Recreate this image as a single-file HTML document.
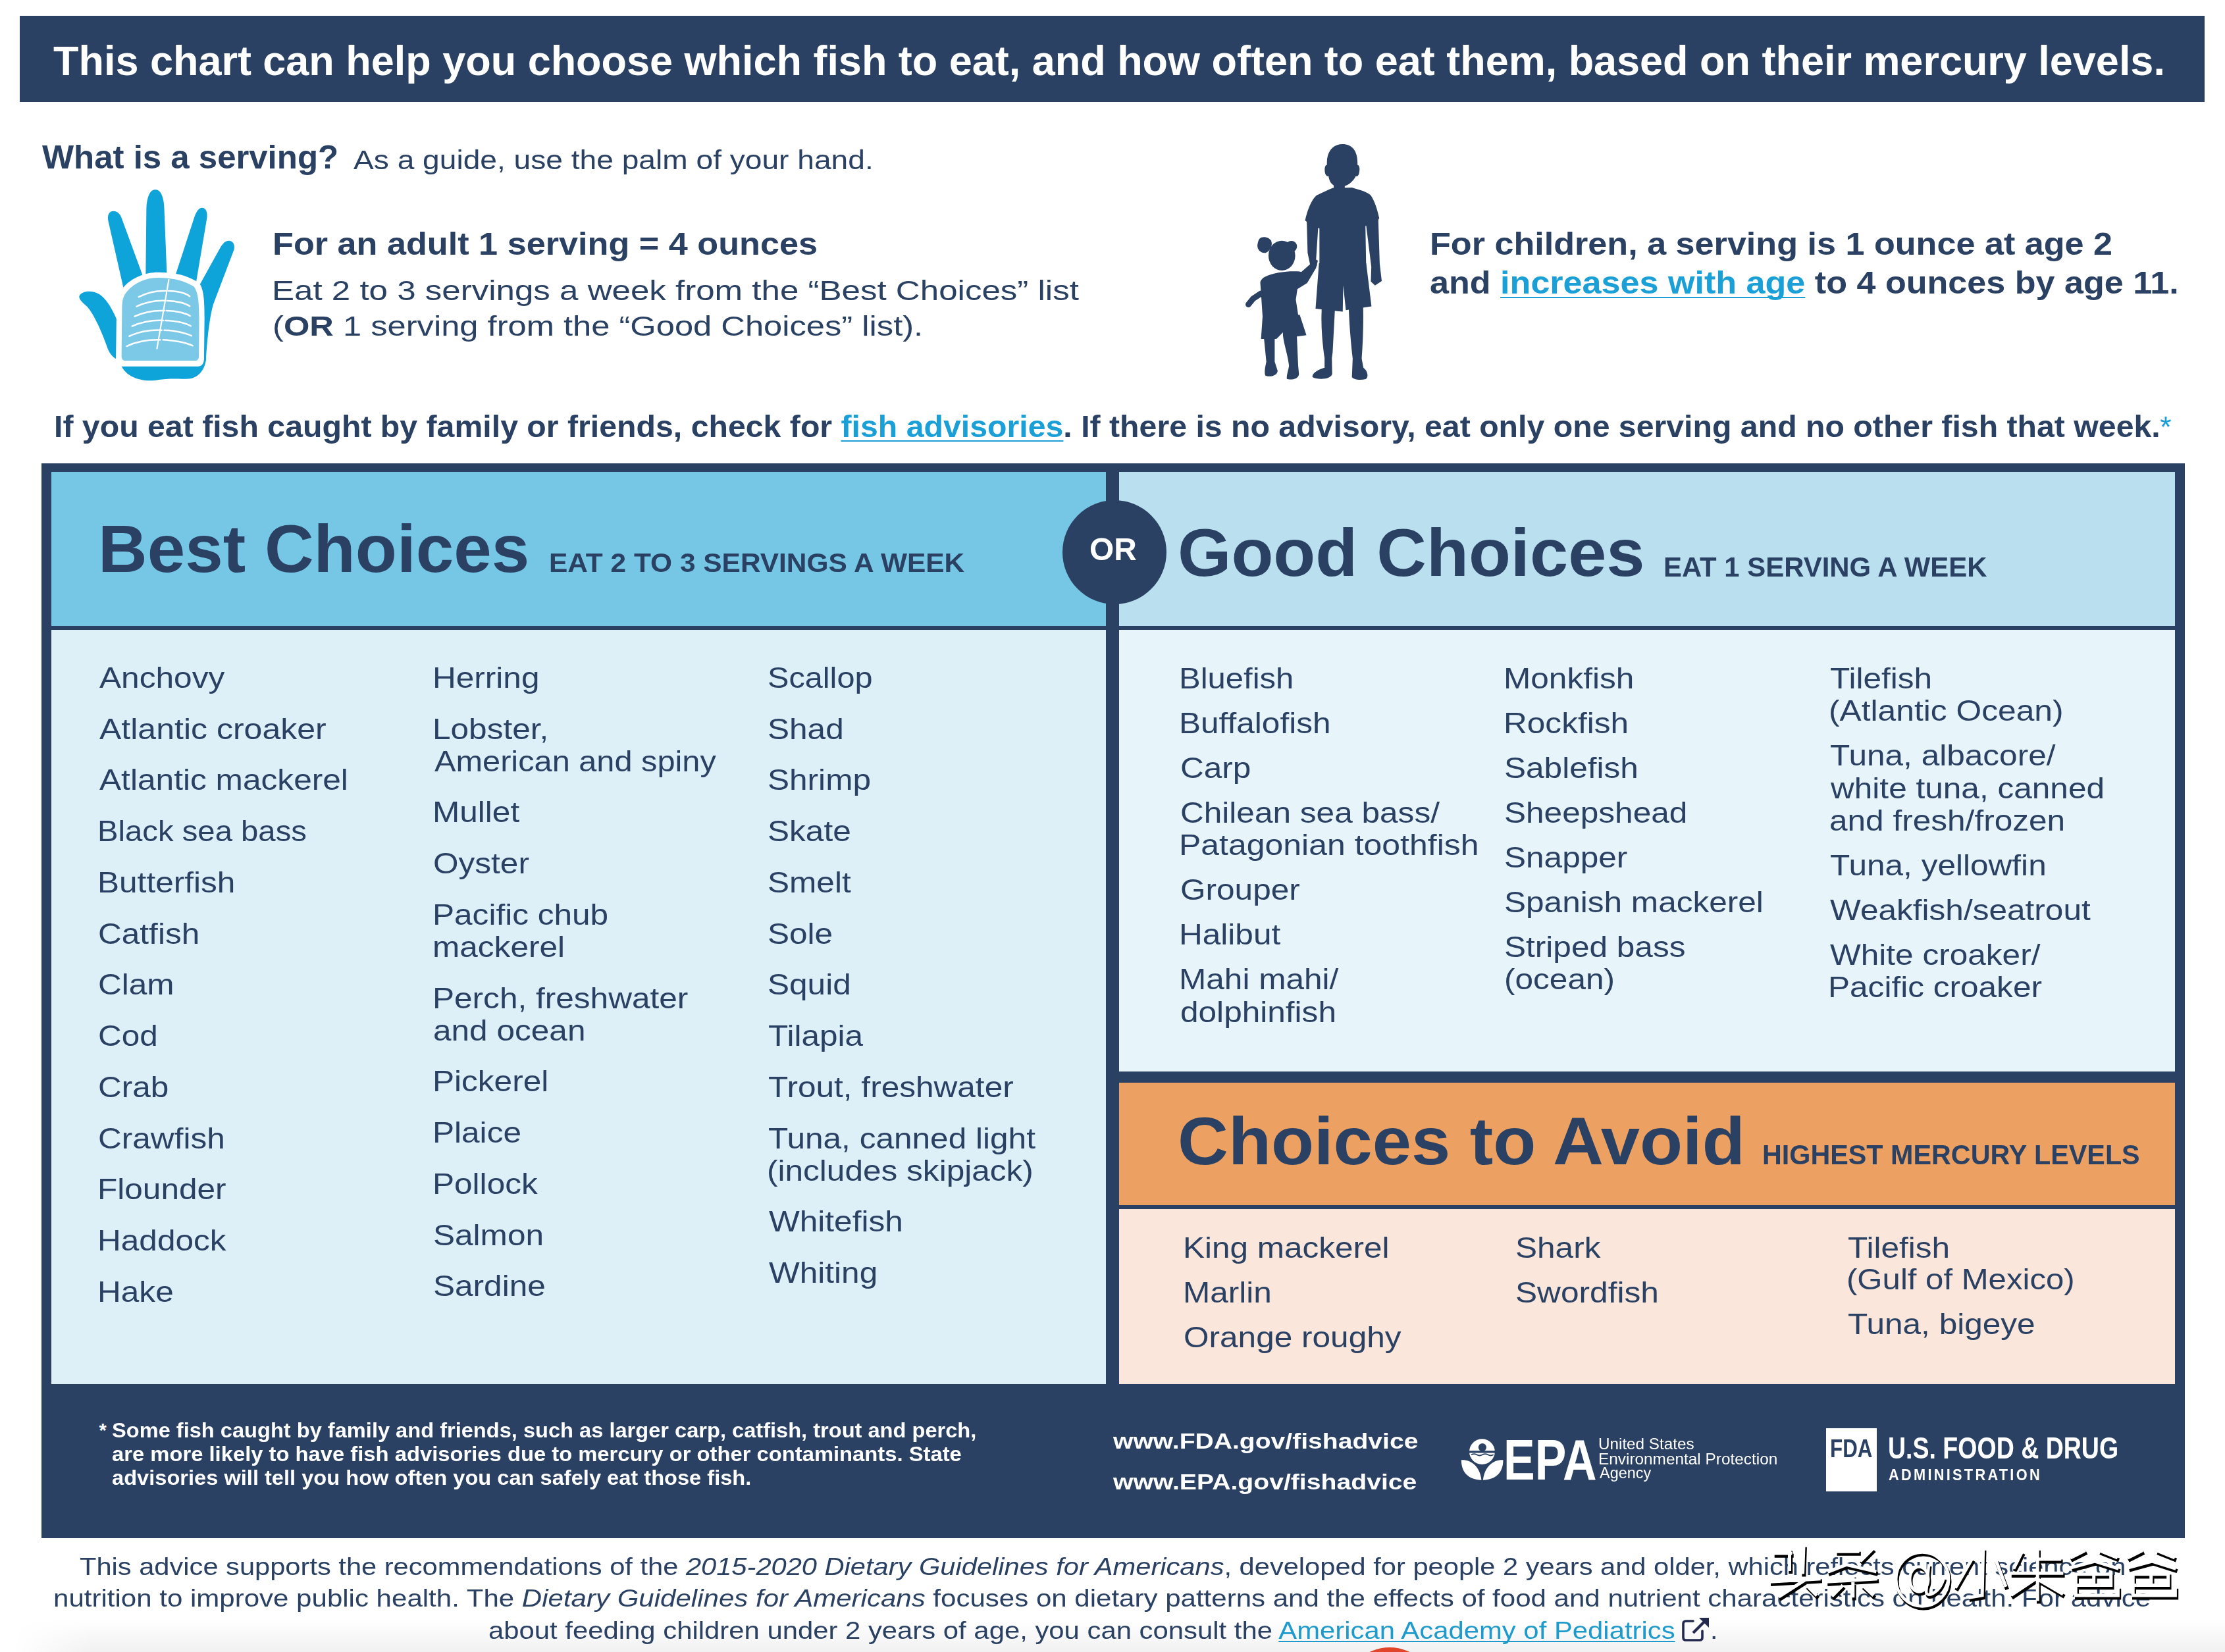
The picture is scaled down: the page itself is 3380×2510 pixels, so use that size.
<!DOCTYPE html>
<html><head><meta charset="utf-8"><title>Fish advice chart</title>
<style>
html,body{margin:0;padding:0;width:3380px;height:2510px;overflow:hidden;position:relative}
.t{position:absolute;white-space:nowrap;line-height:1;font-family:"Liberation Sans",sans-serif;transform-origin:0 0}
.b{position:absolute}
.lk{color:#1aa0d6;text-decoration:underline;text-decoration-thickness:1.5px;text-underline-offset:5px;text-decoration-skip-ink:none}
.lk2{color:#1e9bcc;text-decoration:underline;text-decoration-thickness:1.5px;text-underline-offset:3px;text-decoration-skip-ink:none}
i{font-style:italic}

body{background:#fff}

</style></head><body>
<div class="b" style="left:30px;top:24px;width:3319px;height:131px;background:#2a4163"></div>
<div class="b" style="left:63px;top:704px;width:3256px;height:1633px;background:#2a4163"></div>
<div class="b" style="left:78px;top:717px;width:1602px;height:234px;background:#76c7e5"></div>
<div class="b" style="left:78px;top:957px;width:1602px;height:1146px;background:#ddf0f8"></div>
<div class="b" style="left:1700px;top:717px;width:1604px;height:234px;background:#badfef"></div>
<div class="b" style="left:1700px;top:957px;width:1604px;height:671px;background:#e7f4fa"></div>
<div class="b" style="left:1700px;top:1645px;width:1604px;height:186px;background:#eca163"></div>
<div class="b" style="left:1700px;top:1837px;width:1604px;height:266px;background:#fae6da"></div>
<div class="b" style="left:1614px;top:760px;width:158px;height:158px;border-radius:50%;background:#2a4163"></div>
<div class="b" style="left:2773.6px;top:2170px;width:77px;height:96px;background:#fff"></div>
<div class="b" style="left:0;top:2460px;width:3380px;height:50px;background:linear-gradient(to bottom,rgba(0,0,0,0),rgba(0,0,0,0.055));-webkit-mask-image:linear-gradient(to right,transparent 20px,#000 140px);mask-image:linear-gradient(to right,transparent 20px,#000 140px)"></div>
<div class="b" style="left:2042px;top:2502.6px;width:138px;height:138px;border-radius:50%;background:#e0452a"></div>
<svg class="b" style="left:100px;top:270px" width="280" height="320" viewBox="0 0 1446 1652">
<g fill="#0ea4da">
<path d="M626 820 L632 240 C636 150 660 93 702 93 C745 93 768 150 772 240 L795 820 Z"/>
<path d="M478 980 L334 345 C322 292 340 262 374 262 C408 262 430 288 444 334 L622 820 Z"/>
<path d="M842 820 L1010 305 C1024 265 1044 236 1068 236 C1100 236 1114 272 1106 322 L1012 880 Z"/>
<path d="M1000 930 L1214 545 C1234 512 1254 494 1278 494 C1310 494 1328 522 1320 562 L1158 990 C1130 1080 1110 1250 1100 1410 L1000 1410 Z"/>
<path d="M425 1170 C395 1100 340 960 260 912 C200 880 125 888 106 928 C100 948 125 975 168 1012 C230 1085 290 1230 330 1345 C352 1395 385 1425 425 1432 Z"/>
<path d="M445 880 L1100 880 L1100 1430 C1085 1520 1030 1572 965 1577 C880 1582 815 1570 700 1590 C585 1602 480 1562 440 1485 L400 1430 Z"/>
</g>
<path fill="#fff" d="M452 860 C515 785 625 742 722 742 C850 742 955 765 1045 825 C1080 868 1088 950 1088 1100 L1084 1425 C1082 1462 1062 1480 1040 1480 L440 1480 C412 1480 393 1460 393 1425 L398 1010 C400 945 420 895 452 860 Z"/>
<path fill="#7cc8e7" d="M480 893 C540 822 633 785 722 785 C840 785 930 806 1005 855 C1035 895 1045 960 1046 1100 L1044 1400 C1044 1424 1032 1436 1010 1436 L470 1436 C450 1436 437 1424 437 1400 L441 1010 C443 955 455 920 480 893 Z"/>
<g stroke="#fff" stroke-width="13" fill="none" stroke-linecap="round">
<path d="M572 935 C650 895 730 885 790 888"/>
<path d="M555 1010 C640 970 720 962 785 965"/>
<path d="M540 1088 C625 1048 710 1040 775 1043"/>
<path d="M520 1165 C610 1125 695 1117 765 1120"/>
<path d="M498 1243 C590 1200 680 1193 752 1196"/>
<path d="M478 1322 C575 1276 665 1270 740 1272"/>
<path d="M805 888 C870 890 940 905 972 930"/>
<path d="M798 965 C870 967 940 985 972 1008"/>
<path d="M790 1043 C865 1045 940 1062 975 1085"/>
<path d="M782 1120 C860 1122 940 1140 980 1163"/>
<path d="M773 1196 C855 1198 940 1218 985 1240"/>
<path d="M763 1272 C850 1274 945 1295 995 1318"/>
<path d="M808 800 L715 1340" stroke-width="11"/>
</g>
</svg>
<svg class="b" style="left:1880px;top:200px" width="240" height="390" viewBox="0 0 1017 1652">
<g fill="#2a4163">
<path d="M575 200 C575 120 620 80 675 80 C735 80 772 120 772 200 L772 215 C785 215 790 240 780 275 C772 290 765 290 762 285 C745 320 715 344 690 350 L690 364 L619 366 L619 346 C600 335 590 315 585 285 C575 290 565 280 562 260 C558 230 565 215 575 215 Z"/>
<path d="M613 362 L737 360 C790 376 835 388 856 409 C880 440 900 500 912 559 L888 576 L823 608 L828 888 L527 888 L527 624 L462 592 L435 573 C450 500 480 430 511 409 C550 390 590 372 613 362 Z"/>
<path d="M445 565 L522 590 L519 612 L505 830 L512 862 L470 872 L451 780 Z"/>
<path d="M826 590 L910 550 L906 572 L915 850 L928 962 L885 990 L858 965 L861 870 Z"/>
<path d="M524 847 L828 847 L862 1125 L697 1149 L680 989 L677 1159 L502 1140 Z"/>
<path d="M541 1100 L629 1100 L612 1420 L607 1456 L609 1560 C600 1595 520 1600 482 1580 C478 1555 520 1530 560 1520 L560 1456 C548 1380 536 1260 541 1155 Z"/>
<path d="M716 1100 L808 1100 C812 1250 805 1380 799 1461 L810 1520 C838 1540 845 1580 825 1593 C790 1600 750 1598 736 1580 L741 1461 C730 1370 720 1250 716 1145 Z"/>
<ellipse cx="285" cy="798" rx="86" ry="96"/>
<path d="M140 690 C160 670 200 680 215 700 C230 730 210 770 180 780 C150 785 125 760 128 730 C130 710 135 700 140 690 Z"/>
<path d="M318 715 C335 695 370 700 380 725 C390 750 370 775 345 778 C325 778 312 758 318 715 Z"/>
<path d="M175 935 C230 905 330 895 400 900 C425 905 440 930 448 974 L385 1013 L375 1081 L390 1179 L400 1179 L443 1310 L300 1330 L292 1292 L250 1335 L151 1335 L161 1189 L146 969 C150 955 160 942 175 935 Z"/>
<path d="M150 1042 L100 1075 L70 1112" stroke="#2a4163" stroke-width="38" stroke-linecap="round" fill="none"/>
<path d="M380 930 L468 852 L490 815 L517 830 L505 878 L448 974 Z"/>
<path d="M166 1290 L239 1290 L239 1481 L258 1540 C255 1575 200 1582 178 1570 C170 1540 180 1510 185 1481 Z"/>
<path d="M292 1280 L380 1280 L390 1505 L395 1560 C395 1595 340 1600 317 1592 C315 1560 330 1530 331 1505 C320 1420 300 1380 292 1310 Z"/>
</g>
</svg>
<svg class="b" style="left:2200px;top:2150px" width="520" height="140" viewBox="0 0 2225 599">
<circle cx="220" cy="238" r="83" fill="#fff"/>
<rect x="130" y="232" width="180" height="14" fill="#2a4163"/>
<circle cx="222" cy="210" r="26" fill="#2a4163"/>
<path d="M150 258 q18 -10 36 0 q18 10 36 0 q18 -10 36 0 q18 10 36 0" stroke="#2a4163" stroke-width="8" fill="none"/>
<path fill="#fff" d="M85 292 C145 288 205 330 216 422 C130 420 85 372 85 292 Z"/>
<path fill="#fff" d="M357 292 C297 288 237 330 226 422 C312 420 357 372 357 292 Z"/>
</svg>
<div class="t" style="left:3281px;top:626px;font-size:45px;font-weight:400;color:#1aa0d6">*</div>
<div class="t" style="left:150.5px;top:2159.4px;font-size:29px;font-weight:700;color:#fff">*</div>
<svg class="b" style="left:2552px;top:2454px" width="48" height="42" viewBox="0 0 48 42">
<path d="M20 9 L9 9 Q5 9 5 13 L5 34 Q5 38 9 38 L30 38 Q34 38 34 34 L34 24" stroke="#23294f" stroke-width="3.6" fill="none" stroke-linecap="round"/>
<path d="M20 27 L38 9" stroke="#23294f" stroke-width="4.2"/>
<path d="M29 4 L44 4 L44 19 Z" fill="#23294f"/>
</svg>

<div class="t" id="banner" style="left:80.59px;top:61.84px;font-size:62.32px;font-weight:700;color:#ffffff;transform:scaleX(1.01032);">This chart can help you choose which fish to eat, and how often to eat them, based on their mercury levels.</div>
<div class="t" id="serv_b" style="left:64.19px;top:214.24px;font-size:50.72px;font-weight:700;color:#2a4163;transform:scaleX(1.00449);">What is a serving?</div>
<div class="t" id="serv_r" style="left:537.00px;top:222.66px;font-size:40.76px;font-weight:400;color:#2a4163;transform:scaleX(1.13184);">As a guide, use the palm of your hand.</div>
<div class="t" id="adult1" style="left:413.76px;top:346.13px;font-size:48.84px;font-weight:700;color:#2a4163;transform:scaleX(1.06879);">For an adult 1 serving = 4 ounces</div>
<div class="t" id="adult2" style="left:413.37px;top:419.60px;font-size:43.32px;font-weight:400;color:#2a4163;transform:scaleX(1.17886);">Eat 2 to 3 servings a week from the “Best Choices” list</div>
<div class="t" id="adult3" style="left:414.00px;top:473.90px;font-size:43.32px;font-weight:400;color:#2a4163;transform:scaleX(1.16961);">(<b>OR</b> 1 serving from the “Good Choices” list).</div>
<div class="t" id="child1" style="left:2171.96px;top:346.33px;font-size:48.84px;font-weight:700;color:#2a4163;transform:scaleX(1.06749);">For children, a serving is 1 ounce at age 2</div>
<div class="t" id="child2" style="left:2172.30px;top:405.23px;font-size:48.84px;font-weight:700;color:#2a4163;transform:scaleX(1.06685);">and <span class="lk">increases with age</span> to 4 ounces by age 11.</div>
<div class="t" id="advis" style="left:82.27px;top:624.81px;font-size:46.38px;font-weight:700;color:#2a4163;transform:scaleX(1.04020);">If you eat fish caught by family or friends, check for <span class="lk">fish advisories</span>. If there is no advisory, eat only one serving and no other fish that week.</div>
<div class="t" id="best_t" style="left:149.35px;top:783.05px;font-size:102.90px;font-weight:700;color:#2a4163;transform:scaleX(1.00516);">Best Choices</div>
<div class="t" id="best_s" style="left:833.91px;top:835.22px;font-size:41.16px;font-weight:700;color:#2a4163;transform:scaleX(1.03120);">EAT 2 TO 3 SERVINGS A WEEK</div>
<div class="t" id="or" style="left:1655.00px;top:810.59px;font-size:47.83px;font-weight:700;color:#ffffff;transform:scaleX(1.00145);">OR</div>
<div class="t" id="good_t" style="left:1788.93px;top:789.45px;font-size:102.90px;font-weight:700;color:#2a4163;transform:scaleX(1.01742);">Good Choices</div>
<div class="t" id="good_s" style="left:2526.99px;top:841.13px;font-size:41.74px;font-weight:700;color:#2a4163;transform:scaleX(1.00432);">EAT 1 SERVING A WEEK</div>
<div class="t" id="avoid_t" style="left:1788.86px;top:1682.55px;font-size:102.90px;font-weight:700;color:#2a4163;transform:scaleX(1.03479);">Choices to Avoid</div>
<div class="t" id="avoid_s" style="left:2677.10px;top:1733.37px;font-size:42.75px;font-weight:700;color:#2a4163;transform:scaleX(0.96604);">HIGHEST MERCURY LEVELS</div>
<div class="t" id="b1_0_0" style="left:151.35px;top:1007.98px;font-size:44.17px;font-weight:400;color:#2a4163;transform:scaleX(1.12367);">Anchovy</div>
<div class="t" id="b1_1_0" style="left:151.35px;top:1085.72px;font-size:44.17px;font-weight:400;color:#2a4163;transform:scaleX(1.13267);">Atlantic croaker</div>
<div class="t" id="b1_2_0" style="left:151.35px;top:1163.46px;font-size:44.17px;font-weight:400;color:#2a4163;transform:scaleX(1.12402);">Atlantic mackerel</div>
<div class="t" id="b1_3_0" style="left:148.15px;top:1241.20px;font-size:44.17px;font-weight:400;color:#2a4163;transform:scaleX(1.07055);">Black sea bass</div>
<div class="t" id="b1_4_0" style="left:147.98px;top:1318.94px;font-size:44.17px;font-weight:400;color:#2a4163;transform:scaleX(1.12227);">Butterfish</div>
<div class="t" id="b1_5_0" style="left:149.10px;top:1396.68px;font-size:44.17px;font-weight:400;color:#2a4163;transform:scaleX(1.12227);">Catfish</div>
<div class="t" id="b1_6_0" style="left:149.10px;top:1474.42px;font-size:44.17px;font-weight:400;color:#2a4163;transform:scaleX(1.12227);">Clam</div>
<div class="t" id="b1_7_0" style="left:149.10px;top:1552.16px;font-size:44.17px;font-weight:400;color:#2a4163;transform:scaleX(1.12227);">Cod</div>
<div class="t" id="b1_8_0" style="left:149.10px;top:1629.90px;font-size:44.17px;font-weight:400;color:#2a4163;transform:scaleX(1.12227);">Crab</div>
<div class="t" id="b1_9_0" style="left:149.10px;top:1707.64px;font-size:44.17px;font-weight:400;color:#2a4163;transform:scaleX(1.12227);">Crawfish</div>
<div class="t" id="b1_10_0" style="left:147.98px;top:1785.38px;font-size:44.17px;font-weight:400;color:#2a4163;transform:scaleX(1.12227);">Flounder</div>
<div class="t" id="b1_11_0" style="left:147.98px;top:1863.12px;font-size:44.17px;font-weight:400;color:#2a4163;transform:scaleX(1.12227);">Haddock</div>
<div class="t" id="b1_12_0" style="left:147.98px;top:1940.86px;font-size:44.17px;font-weight:400;color:#2a4163;transform:scaleX(1.12227);">Hake</div>
<div class="t" id="b2_0_0" style="left:656.98px;top:1007.98px;font-size:44.17px;font-weight:400;color:#2a4163;transform:scaleX(1.12227);">Herring</div>
<div class="t" id="b2_1_0" style="left:656.98px;top:1085.72px;font-size:44.17px;font-weight:400;color:#2a4163;transform:scaleX(1.12227);">Lobster,</div>
<div class="t" id="b2_1_1" style="left:660.36px;top:1134.72px;font-size:44.17px;font-weight:400;color:#2a4163;transform:scaleX(1.10310);">American and spiny</div>
<div class="t" id="b2_2_0" style="left:656.98px;top:1212.46px;font-size:44.17px;font-weight:400;color:#2a4163;transform:scaleX(1.12227);">Mullet</div>
<div class="t" id="b2_3_0" style="left:658.10px;top:1290.20px;font-size:44.17px;font-weight:400;color:#2a4163;transform:scaleX(1.12227);">Oyster</div>
<div class="t" id="b2_4_0" style="left:656.98px;top:1367.94px;font-size:44.17px;font-weight:400;color:#2a4163;transform:scaleX(1.12227);">Pacific chub</div>
<div class="t" id="b2_4_1" style="left:656.98px;top:1416.94px;font-size:44.17px;font-weight:400;color:#2a4163;transform:scaleX(1.12227);">mackerel</div>
<div class="t" id="b2_5_0" style="left:656.98px;top:1494.68px;font-size:44.17px;font-weight:400;color:#2a4163;transform:scaleX(1.12227);">Perch, freshwater</div>
<div class="t" id="b2_5_1" style="left:658.10px;top:1543.68px;font-size:44.17px;font-weight:400;color:#2a4163;transform:scaleX(1.12227);">and ocean</div>
<div class="t" id="b2_6_0" style="left:656.98px;top:1621.42px;font-size:44.17px;font-weight:400;color:#2a4163;transform:scaleX(1.12227);">Pickerel</div>
<div class="t" id="b2_7_0" style="left:656.98px;top:1699.16px;font-size:44.17px;font-weight:400;color:#2a4163;transform:scaleX(1.12227);">Plaice</div>
<div class="t" id="b2_8_0" style="left:656.98px;top:1776.90px;font-size:44.17px;font-weight:400;color:#2a4163;transform:scaleX(1.12227);">Pollock</div>
<div class="t" id="b2_9_0" style="left:658.10px;top:1854.64px;font-size:44.17px;font-weight:400;color:#2a4163;transform:scaleX(1.12227);">Salmon</div>
<div class="t" id="b2_10_0" style="left:658.10px;top:1932.38px;font-size:44.17px;font-weight:400;color:#2a4163;transform:scaleX(1.12227);">Sardine</div>
<div class="t" id="b3_0_0" style="left:1166.20px;top:1007.98px;font-size:44.17px;font-weight:400;color:#2a4163;transform:scaleX(1.10142);">Scallop</div>
<div class="t" id="b3_1_0" style="left:1166.17px;top:1085.72px;font-size:44.17px;font-weight:400;color:#2a4163;transform:scaleX(1.12227);">Shad</div>
<div class="t" id="b3_2_0" style="left:1166.17px;top:1163.46px;font-size:44.17px;font-weight:400;color:#2a4163;transform:scaleX(1.12227);">Shrimp</div>
<div class="t" id="b3_3_0" style="left:1166.17px;top:1241.20px;font-size:44.17px;font-weight:400;color:#2a4163;transform:scaleX(1.12227);">Skate</div>
<div class="t" id="b3_4_0" style="left:1166.17px;top:1318.94px;font-size:44.17px;font-weight:400;color:#2a4163;transform:scaleX(1.12227);">Smelt</div>
<div class="t" id="b3_5_0" style="left:1166.17px;top:1396.68px;font-size:44.17px;font-weight:400;color:#2a4163;transform:scaleX(1.12227);">Sole</div>
<div class="t" id="b3_6_0" style="left:1166.17px;top:1474.42px;font-size:44.17px;font-weight:400;color:#2a4163;transform:scaleX(1.12227);">Squid</div>
<div class="t" id="b3_7_0" style="left:1167.29px;top:1552.16px;font-size:44.17px;font-weight:400;color:#2a4163;transform:scaleX(1.12227);">Tilapia</div>
<div class="t" id="b3_8_0" style="left:1167.29px;top:1629.90px;font-size:44.17px;font-weight:400;color:#2a4163;transform:scaleX(1.12227);">Trout, freshwater</div>
<div class="t" id="b3_9_0" style="left:1167.29px;top:1707.64px;font-size:44.17px;font-weight:400;color:#2a4163;transform:scaleX(1.12227);">Tuna, canned light</div>
<div class="t" id="b3_9_1" style="left:1165.04px;top:1756.64px;font-size:44.17px;font-weight:400;color:#2a4163;transform:scaleX(1.12227);">(includes skipjack)</div>
<div class="t" id="b3_10_0" style="left:1168.41px;top:1834.38px;font-size:44.17px;font-weight:400;color:#2a4163;transform:scaleX(1.12227);">Whitefish</div>
<div class="t" id="b3_11_0" style="left:1168.41px;top:1912.12px;font-size:44.17px;font-weight:400;color:#2a4163;transform:scaleX(1.12227);">Whiting</div>
<div class="t" id="g1_0_0" style="left:1790.97px;top:1008.98px;font-size:44.17px;font-weight:400;color:#2a4163;transform:scaleX(1.10993);">Bluefish</div>
<div class="t" id="g1_1_0" style="left:1790.92px;top:1076.98px;font-size:44.17px;font-weight:400;color:#2a4163;transform:scaleX(1.12227);">Buffalofish</div>
<div class="t" id="g1_2_0" style="left:1793.17px;top:1144.98px;font-size:44.17px;font-weight:400;color:#2a4163;transform:scaleX(1.12227);">Carp</div>
<div class="t" id="g1_3_0" style="left:1793.17px;top:1212.98px;font-size:44.17px;font-weight:400;color:#2a4163;transform:scaleX(1.12227);">Chilean sea bass/</div>
<div class="t" id="g1_3_1" style="left:1790.89px;top:1262.28px;font-size:44.17px;font-weight:400;color:#2a4163;transform:scaleX(1.13131);">Patagonian toothfish</div>
<div class="t" id="g1_4_0" style="left:1793.17px;top:1330.28px;font-size:44.17px;font-weight:400;color:#2a4163;transform:scaleX(1.12227);">Grouper</div>
<div class="t" id="g1_5_0" style="left:1790.92px;top:1398.28px;font-size:44.17px;font-weight:400;color:#2a4163;transform:scaleX(1.12227);">Halibut</div>
<div class="t" id="g1_6_0" style="left:1790.92px;top:1466.28px;font-size:44.17px;font-weight:400;color:#2a4163;transform:scaleX(1.12227);">Mahi mahi/</div>
<div class="t" id="g1_6_1" style="left:1793.17px;top:1515.58px;font-size:44.17px;font-weight:400;color:#2a4163;transform:scaleX(1.12227);">dolphinfish</div>
<div class="t" id="g2_0_0" style="left:2283.78px;top:1008.98px;font-size:44.17px;font-weight:400;color:#2a4163;transform:scaleX(1.12227);">Monkfish</div>
<div class="t" id="g2_1_0" style="left:2283.78px;top:1076.98px;font-size:44.17px;font-weight:400;color:#2a4163;transform:scaleX(1.12227);">Rockfish</div>
<div class="t" id="g2_2_0" style="left:2284.90px;top:1144.98px;font-size:44.17px;font-weight:400;color:#2a4163;transform:scaleX(1.12227);">Sablefish</div>
<div class="t" id="g2_3_0" style="left:2284.90px;top:1212.98px;font-size:44.17px;font-weight:400;color:#2a4163;transform:scaleX(1.12227);">Sheepshead</div>
<div class="t" id="g2_4_0" style="left:2284.90px;top:1280.98px;font-size:44.17px;font-weight:400;color:#2a4163;transform:scaleX(1.12227);">Snapper</div>
<div class="t" id="g2_5_0" style="left:2284.90px;top:1348.98px;font-size:44.17px;font-weight:400;color:#2a4163;transform:scaleX(1.12227);">Spanish mackerel</div>
<div class="t" id="g2_6_0" style="left:2284.90px;top:1416.98px;font-size:44.17px;font-weight:400;color:#2a4163;transform:scaleX(1.12227);">Striped bass</div>
<div class="t" id="g2_6_1" style="left:2284.90px;top:1466.28px;font-size:44.17px;font-weight:400;color:#2a4163;transform:scaleX(1.12227);">(ocean)</div>
<div class="t" id="g3_0_0" style="left:2780.14px;top:1008.98px;font-size:44.17px;font-weight:400;color:#2a4163;transform:scaleX(1.12227);">Tilefish</div>
<div class="t" id="g3_0_1" style="left:2777.89px;top:1058.28px;font-size:44.17px;font-weight:400;color:#2a4163;transform:scaleX(1.12628);">(Atlantic Ocean)</div>
<div class="t" id="g3_1_0" style="left:2780.14px;top:1126.28px;font-size:44.17px;font-weight:400;color:#2a4163;transform:scaleX(1.12227);">Tuna, albacore/</div>
<div class="t" id="g3_1_1" style="left:2781.27px;top:1175.58px;font-size:44.17px;font-weight:400;color:#2a4163;transform:scaleX(1.12227);">white tuna, canned</div>
<div class="t" id="g3_1_2" style="left:2779.02px;top:1224.88px;font-size:44.17px;font-weight:400;color:#2a4163;transform:scaleX(1.12227);">and fresh/frozen</div>
<div class="t" id="g3_2_0" style="left:2780.14px;top:1292.88px;font-size:44.17px;font-weight:400;color:#2a4163;transform:scaleX(1.12227);">Tuna, yellowfin</div>
<div class="t" id="g3_3_0" style="left:2780.14px;top:1360.88px;font-size:44.17px;font-weight:400;color:#2a4163;transform:scaleX(1.12227);">Weakfish/seatrout</div>
<div class="t" id="g3_4_0" style="left:2780.14px;top:1428.88px;font-size:44.17px;font-weight:400;color:#2a4163;transform:scaleX(1.12227);">White croaker/</div>
<div class="t" id="g3_4_1" style="left:2776.78px;top:1478.18px;font-size:44.17px;font-weight:400;color:#2a4163;transform:scaleX(1.12227);">Pacific croaker</div>
<div class="t" id="a1_0_0" style="left:1796.58px;top:1873.88px;font-size:44.17px;font-weight:400;color:#2a4163;transform:scaleX(1.12088);">King mackerel</div>
<div class="t" id="a1_1_0" style="left:1796.57px;top:1941.88px;font-size:44.17px;font-weight:400;color:#2a4163;transform:scaleX(1.12227);">Marlin</div>
<div class="t" id="a1_2_0" style="left:1797.69px;top:2009.88px;font-size:44.17px;font-weight:400;color:#2a4163;transform:scaleX(1.12227);">Orange roughy</div>
<div class="t" id="a2_0_0" style="left:2301.76px;top:1873.88px;font-size:44.17px;font-weight:400;color:#2a4163;transform:scaleX(1.12227);">Shark</div>
<div class="t" id="a2_1_0" style="left:2301.75px;top:1941.88px;font-size:44.17px;font-weight:400;color:#2a4163;transform:scaleX(1.12381);">Swordfish</div>
<div class="t" id="a3_0_0" style="left:2806.88px;top:1873.88px;font-size:44.17px;font-weight:400;color:#2a4163;transform:scaleX(1.12227);">Tilefish</div>
<div class="t" id="a3_0_1" style="left:2804.66px;top:1921.88px;font-size:44.17px;font-weight:400;color:#2a4163;transform:scaleX(1.11242);">(Gulf of Mexico)</div>
<div class="t" id="a3_1_0" style="left:2806.88px;top:1989.88px;font-size:44.17px;font-weight:400;color:#2a4163;transform:scaleX(1.12227);">Tuna, bigeye</div>
<div class="t" id="fn1" style="left:169.93px;top:2158.28px;font-size:30.43px;font-weight:700;color:#ffffff;transform:scaleX(1.07155);">Some fish caught by family and friends, such as larger carp, catfish, trout and perch,</div>
<div class="t" id="fn2" style="left:169.92px;top:2193.88px;font-size:30.43px;font-weight:700;color:#ffffff;transform:scaleX(1.07686);">are more likely to have fish advisories due to mercury or other contaminants. State</div>
<div class="t" id="fn3" style="left:169.93px;top:2229.68px;font-size:30.43px;font-weight:700;color:#ffffff;transform:scaleX(1.07198);">advisories will tell you how often you can safely eat those fish.</div>
<div class="t" id="url1" style="left:1691.31px;top:2174.32px;font-size:32.75px;font-weight:700;color:#ffffff;transform:scaleX(1.19381);">www.FDA.gov/fishadvice</div>
<div class="t" id="url2" style="left:1691.31px;top:2236.32px;font-size:32.75px;font-weight:700;color:#ffffff;transform:scaleX(1.19584);">www.EPA.gov/fishadvice</div>
<div class="t" id="epa_big" style="left:2284.12px;top:2173.79px;font-size:87.83px;font-weight:700;color:#ffffff;transform:scaleX(0.81325);">EPA</div>
<div class="t" id="epa_1" style="left:2427.92px;top:2182.92px;font-size:23.29px;font-weight:400;color:#ffffff;transform:scaleX(1.04161);">United States</div>
<div class="t" id="epa_2" style="left:2427.91px;top:2206.32px;font-size:23.29px;font-weight:400;color:#ffffff;transform:scaleX(1.04669);">Environmental Protection</div>
<div class="t" id="epa_3" style="left:2430.00px;top:2227.32px;font-size:23.29px;font-weight:400;color:#ffffff;transform:scaleX(1.00641);">Agency</div>
<div class="t" id="fda_1" style="left:2867.64px;top:2178.48px;font-size:45.94px;font-weight:700;color:#ffffff;transform:scaleX(0.81655);">U.S. FOOD &amp; DRUG</div>
<div class="t" id="fda_2" style="left:2869.22px;top:2230.41px;font-size:23.19px;font-weight:700;color:#ffffff;transform:scaleX(0.93827);letter-spacing:3.5px;">ADMINISTRATION</div>
<div class="t" id="fda_box" style="left:2779.61px;top:2182.91px;font-size:37.97px;font-weight:700;color:#2a4163;transform:scaleX(0.82533);">FDA</div>
<div class="t" id="bp1" style="left:120.93px;top:2363.16px;font-size:36.50px;font-weight:400;color:#2a4163;transform:scaleX(1.14047);">This advice supports the recommendations of the <i>2015-2020 Dietary Guidelines for Americans</i>, developed for people 2 years and older, which reflects current science on</div>
<div class="t" id="bp2" style="left:81.19px;top:2411.16px;font-size:36.50px;font-weight:400;color:#2a4163;transform:scaleX(1.15159);">nutrition to improve public health. The <i>Dietary Guidelines for Americans</i> focuses on dietary patterns and the effects of food and nutrient characteristics on health. For advice</div>
<div class="t" id="bp_dot" style="left:2597.62px;top:2459.66px;font-size:36.50px;font-weight:400;color:#2a4163;transform:scaleX(1.12500);">.</div>
<div class="t" id="bp3" style="left:741.56px;top:2460.16px;font-size:36.50px;font-weight:400;color:#2a4163;transform:scaleX(1.14634);">about feeding children under 2 years of age, you can consult the <span class="lk2">American Academy of Pediatrics</span></div>
<svg class="b" style="left:0;top:0" width="3380" height="2510" viewBox="0 0 3380 2510">
<g><path d="M2741.8 2353.6 L2740.4 2392.5 M2698.7 2363.7 L2721.7 2363.7 M2720.3 2359.4 L2720.3 2388 M2693 2406.8 L2764.9 2402.5 M2741.8 2405.4 L2705.9 2428.4 M2748 2414 L2760 2426 M2793.6 2360.8 L2823.8 2360.8 M2845.4 2358 L2829.6 2373.8 M2780.7 2391 L2806.6 2381 L2849.7 2391 M2779.2 2406.8 L2851.2 2402.5 M2816.6 2399.7 L2816.6 2428.4 M2799.4 2414 L2786.4 2427 M2833 2414 L2846 2426 M2996.4 2373.8 L2973.4 2414 M3014.4 2358.8 L3012.9 2427.5 L2994.6 2430.6 M3034.3 2375.6 L3048 2412.2 M3072.5 2363.3 L3061.8 2384.7 M3095.4 2372.5 L3130.6 2372.5 M3058.8 2393.9 L3133.6 2393.9 M3097 2358.8 L3097 2433.6 M3095.4 2401.5 L3058.8 2426 M3100 2404.6 L3133.6 2424.5 M3167.3 2360.3 L3148.9 2369.5 M3193.2 2360.3 L3216.2 2369.5 M3150.5 2384.7 L3184.1 2375.6 L3217.7 2386.3 M3155.0 2395.4 L3208.5 2395.4 M3155.0 2412.2 L3208.5 2412.2 M3155.0 2395.4 L3155.0 2427.5 L3219.2 2427.5 L3219.2 2416.8 M3208.5 2395.4 L3208.5 2412.2 M3182.5 2395.4 L3182.5 2412.2 M3254.3 2360.3 L3235.9 2369.5 M3280.2 2360.3 L3303.2 2369.5 M3237.5 2384.7 L3271.1 2375.6 L3304.7 2386.3 M3242.0 2395.4 L3295.5 2395.4 M3242.0 2412.2 L3295.5 2412.2 M3242.0 2395.4 L3242.0 2427.5 L3306.2 2427.5 L3306.2 2416.8 M3295.5 2395.4 L3295.5 2412.2 M3269.5 2395.4 L3269.5 2412.2" stroke="#000" stroke-width="6" fill="none" stroke-linecap="square"/><ellipse cx="2922" cy="2403" rx="40" ry="41" stroke="#000" stroke-width="5" fill="none"/><path d="M2932 2380 L2928 2420 Q2927 2428 2935 2426 Q2950 2420 2955 2400" stroke="#000" stroke-width="5" fill="none"/><ellipse cx="2917" cy="2403" rx="14" ry="19" stroke="#000" stroke-width="5" fill="none"/></g>
<g transform="translate(-1.8,-3.6)"><path d="M2741.8 2353.6 L2740.4 2392.5 M2698.7 2363.7 L2721.7 2363.7 M2720.3 2359.4 L2720.3 2388 M2693 2406.8 L2764.9 2402.5 M2741.8 2405.4 L2705.9 2428.4 M2748 2414 L2760 2426 M2793.6 2360.8 L2823.8 2360.8 M2845.4 2358 L2829.6 2373.8 M2780.7 2391 L2806.6 2381 L2849.7 2391 M2779.2 2406.8 L2851.2 2402.5 M2816.6 2399.7 L2816.6 2428.4 M2799.4 2414 L2786.4 2427 M2833 2414 L2846 2426 M2996.4 2373.8 L2973.4 2414 M3014.4 2358.8 L3012.9 2427.5 L2994.6 2430.6 M3034.3 2375.6 L3048 2412.2 M3072.5 2363.3 L3061.8 2384.7 M3095.4 2372.5 L3130.6 2372.5 M3058.8 2393.9 L3133.6 2393.9 M3097 2358.8 L3097 2433.6 M3095.4 2401.5 L3058.8 2426 M3100 2404.6 L3133.6 2424.5 M3167.3 2360.3 L3148.9 2369.5 M3193.2 2360.3 L3216.2 2369.5 M3150.5 2384.7 L3184.1 2375.6 L3217.7 2386.3 M3155.0 2395.4 L3208.5 2395.4 M3155.0 2412.2 L3208.5 2412.2 M3155.0 2395.4 L3155.0 2427.5 L3219.2 2427.5 L3219.2 2416.8 M3208.5 2395.4 L3208.5 2412.2 M3182.5 2395.4 L3182.5 2412.2 M3254.3 2360.3 L3235.9 2369.5 M3280.2 2360.3 L3303.2 2369.5 M3237.5 2384.7 L3271.1 2375.6 L3304.7 2386.3 M3242.0 2395.4 L3295.5 2395.4 M3242.0 2412.2 L3295.5 2412.2 M3242.0 2395.4 L3242.0 2427.5 L3306.2 2427.5 L3306.2 2416.8 M3295.5 2395.4 L3295.5 2412.2 M3269.5 2395.4 L3269.5 2412.2" stroke="#fff" stroke-width="5" fill="none" stroke-linecap="square"/><ellipse cx="2922" cy="2403" rx="40" ry="41" stroke="#fff" stroke-width="4.5" fill="none"/><path d="M2932 2380 L2928 2420 Q2927 2428 2935 2426 Q2950 2420 2955 2400" stroke="#fff" stroke-width="4.5" fill="none"/><ellipse cx="2917" cy="2403" rx="14" ry="19" stroke="#fff" stroke-width="4.5" fill="none"/></g>
</svg>
</body></html>
